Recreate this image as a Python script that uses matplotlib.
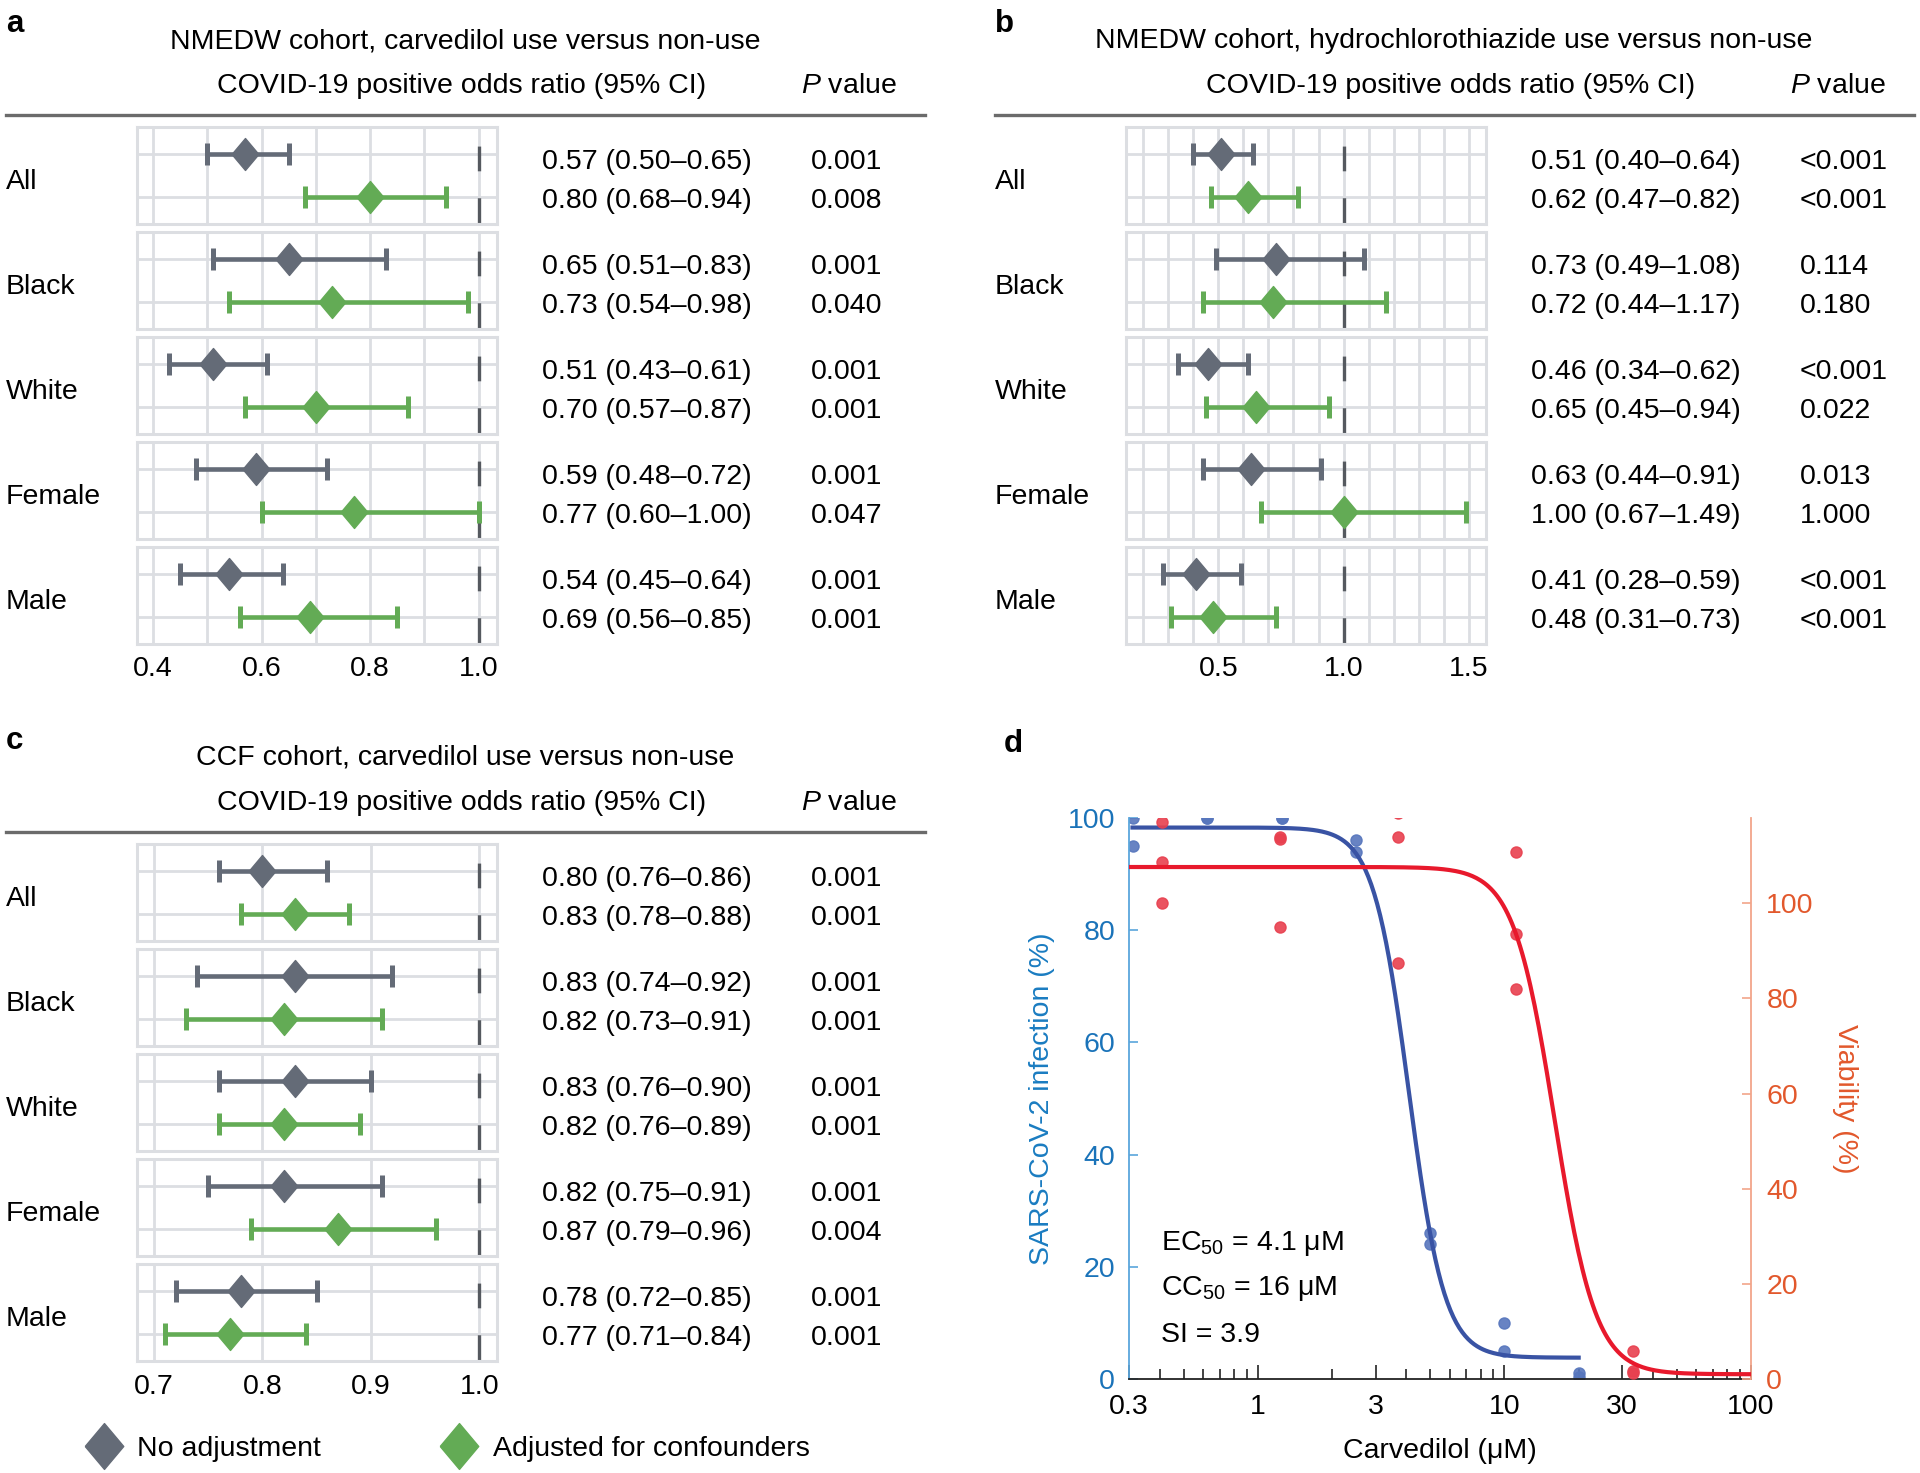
import matplotlib
matplotlib.use('Agg')
import matplotlib.pyplot as plt
from matplotlib import font_manager
from matplotlib.lines import Line2D
import numpy as np

# narrow helvetica-like face if present
names = {f.name for f in font_manager.fontManager.ttflist}
if 'Liberation Sans Narrow' in names:
    FONT, FS = 'Liberation Sans Narrow', 24.5
else:
    FONT, FS = 'Liberation Sans', 20.5
plt.rcParams['font.family'] = [FONT, 'DejaVu Sans']
plt.rcParams['font.size'] = FS
plt.rcParams['mathtext.fontset'] = 'custom'
plt.rcParams['mathtext.rm'] = FONT
plt.rcParams['mathtext.it'] = FONT + ':italic'
plt.rcParams['mathtext.bf'] = FONT + ':bold'
plt.rcParams['mathtext.default'] = 'regular'
plt.rcParams['lines.scale_dashes'] = False

# ---------------- data ----------------
groups = ['All', 'Black', 'White', 'Female', 'Male']

# a: NMEDW carvedilol
a_or = [0.57, 0.65, 0.51, 0.59, 0.54]
a_lo = [0.50, 0.51, 0.43, 0.48, 0.45]
a_hi = [0.65, 0.83, 0.61, 0.72, 0.64]
a_p = ['0.001', '0.001', '0.001', '0.001', '0.001']
a_adj_or = [0.80, 0.73, 0.70, 0.77, 0.69]
a_adj_lo = [0.68, 0.54, 0.57, 0.60, 0.56]
a_adj_hi = [0.94, 0.98, 0.87, 1.00, 0.85]
a_adj_p = ['0.008', '0.040', '0.001', '0.047', '0.001']

# b: NMEDW hydrochlorothiazide
b_or = [0.51, 0.73, 0.46, 0.63, 0.41]
b_lo = [0.40, 0.49, 0.34, 0.44, 0.28]
b_hi = [0.64, 1.08, 0.62, 0.91, 0.59]
b_p = ['<0.001', '0.114', '<0.001', '0.013', '<0.001']
b_adj_or = [0.62, 0.72, 0.65, 1.00, 0.48]
b_adj_lo = [0.47, 0.44, 0.45, 0.67, 0.31]
b_adj_hi = [0.82, 1.17, 0.94, 1.49, 0.73]
b_adj_p = ['<0.001', '0.180', '0.022', '1.000', '<0.001']

# c: CCF carvedilol
c_or = [0.80, 0.83, 0.83, 0.82, 0.78]
c_lo = [0.76, 0.74, 0.76, 0.75, 0.72]
c_hi = [0.86, 0.92, 0.90, 0.91, 0.85]
c_p = ['0.001', '0.001', '0.001', '0.001', '0.001']
c_adj_or = [0.83, 0.82, 0.82, 0.87, 0.77]
c_adj_lo = [0.78, 0.73, 0.76, 0.79, 0.71]
c_adj_hi = [0.88, 0.91, 0.89, 0.96, 0.84]
c_adj_p = ['0.001', '0.001', '0.001', '0.004', '0.001']

# d: dose response
inf_conc = [0.31, 0.31, 0.62, 0.62, 1.25, 1.25, 2.5, 2.5, 5.0, 5.0, 10.0, 10.0, 20.0, 20.0]
inf_val = [100, 95, 100, 100, 100, 100, 96, 94, 26, 24, 10, 5, 1, 0.3]
via_conc = [0.41, 0.41, 0.41, 1.23, 1.23, 1.23, 3.7, 3.7, 3.7, 11.1, 11.1, 11.1, 33.3, 33.3, 33.3]
via_val = [117, 108.6, 100.1, 114, 113.5, 94.9, 119, 113.9, 87.5, 110.7, 93.6, 82, 5.8, 1.7, 1.2]
ec50, ec_top, ec_bot, ec_hill = 4.1, 98.3, 3.8, 6.0
cc50, cc_top, cc_bot, cc_hill = 16.0, 107.6, 1.0, 5.2

# ---------------- style ----------------
GRAY = '#646b77'
GREEN = '#63ab55'
GRID = '#dcdee2'
DASH = '#55595f'
RULE = '#6b6b6b'
DIAMOND = [(-0.42, 0), (0, 0.5), (0.42, 0), (0, -0.5), (-0.42, 0)]

W, H = 1920, 1473
fig = plt.figure(figsize=(W / 100, H / 100), dpi=100)


def fx(x):
    return x / W


def fy(y):
    return 1 - y / H


def forest(dx, dy, letter, title, xlim, grid, ticklabels, unadj, adj):
    fig.text(fx(6 + dx), fy(24 + dy), letter, weight='bold', ha='left', va='center', fontsize=FS + 2)
    fig.text(fx(465 + dx), fy(41 + dy), title, ha='center', va='center')
    fig.text(fx(462 + dx), fy(86 + dy), 'COVID-19 positive odds ratio (95% CI)', ha='center', va='center')
    fig.text(fx(849 + dx), fy(86 + dy), r'$\mathit{P}$ value', ha='center', va='center')
    fig.add_artist(Line2D([fx(6 + dx), fx(925 + dx)], [fy(115 + dy)] * 2, transform=fig.transFigure,
                          color=RULE, lw=2.4))
    for i, g in enumerate(groups):
        top = 127 + dy + i * 105
        ax = fig.add_axes([fx(137 + dx), fy(top + 97), 360 / W, 97 / H])
        ax.set_xlim(xlim)
        ax.set_ylim(1.615, -0.615)
        ax.set_xticks(grid)
        ax.set_xticklabels(ticklabels if i == 4 else [''] * len(grid))
        ax.set_yticks([0, 1])
        ax.grid(True, color=GRID, lw=2.0)
        ax.set_axisbelow(True)
        ax.tick_params(length=0, labelleft=False, pad=9)
        for s in ax.spines.values():
            s.set_color(GRID)
            s.set_linewidth(2.2)
        ax.axvline(1.0, color=DASH, lw=2.4, linestyle=(36.1, (17.8, 19.4)), zorder=2)
        for k, (vals, col) in enumerate([(unadj, GRAY), (adj, GREEN)]):
            o, lo, hi, p = vals[0][i], vals[1][i], vals[2][i], vals[3][i]
            ax.errorbar([o], [k], xerr=[[o - lo], [hi - o]], fmt='none', ecolor=col,
                        elinewidth=3.3, capsize=8.0, capthick=3.6, zorder=3)
            ax.plot([o], [k], marker=DIAMOND, ms=23, color=col, mec=col, ls='none', zorder=4)
            ry = top + 35 + k * 39
            fig.text(fx(542 + dx), fy(ry), f'{o:.2f} ({lo:.2f}\u2013{hi:.2f})', ha='left', va='center')
            fig.text(fx(811 + dx), fy(ry), p, ha='left', va='center')
        fig.text(fx(6 + dx), fy(top + 55), g, ha='left', va='center')


forest(0, 0, 'a', 'NMEDW cohort, carvedilol use versus non-use', (0.3705, 1.034),
       [0.4, 0.5, 0.6, 0.7, 0.8, 0.9, 1.0], ['0.4', '', '0.6', '', '0.8', '', '1.0'],
       (a_or, a_lo, a_hi, a_p), (a_adj_or, a_adj_lo, a_adj_hi, a_adj_p))
forest(989, 0, 'b', 'NMEDW cohort, hydrochlorothiazide use versus non-use', (0.132, 1.568),
       [0.2, 0.3, 0.4, 0.5, 0.6, 0.7, 0.8, 0.9, 1.0, 1.1, 1.2, 1.3, 1.4, 1.5],
       ['', '', '', '0.5', '', '', '', '', '1.0', '', '', '', '', '1.5'],
       (b_or, b_lo, b_hi, b_p), (b_adj_or, b_adj_lo, b_adj_hi, b_adj_p))
forest(0, 717, 'c', 'CCF cohort, carvedilol use versus non-use', (0.6845, 1.0164),
       [0.7, 0.8, 0.9, 1.0], ['0.7', '0.8', '0.9', '1.0'],
       (c_or, c_lo, c_hi, c_p), (c_adj_or, c_adj_lo, c_adj_hi, c_adj_p))

# legend
handles = [Line2D([], [], marker=DIAMOND, ms=33, color=GRAY, ls='none'),
           Line2D([], [], marker=DIAMOND, ms=33, color=GREEN, ls='none')]
fig.legend(handles, ['No adjustment', 'Adjusted for confounders'], loc='center left',
           bbox_to_anchor=(fx(87), fy(1449)), ncol=2, frameon=False, handlelength=1.2,
           handletextpad=0.57, columnspacing=4.25, borderaxespad=0, borderpad=0)

# ---------------- panel d ----------------
BLUE_LINE = '#3953a4'
BLUE_PT = '#5776bd'
RED_LINE = '#e8192c'
RED_PT = '#e8404f'
BLUE_AX = '#1a73b9'
RED_AX = '#e2582c'

fig.text(fx(1004), fy(744), 'd', weight='bold', ha='left', va='center', fontsize=FS + 2)
axd = fig.add_axes([fx(1129), fy(1379), 622 / W, 561 / H])
axd.set_xscale('log')
axd.set_xlim(0.3, 100)
axd.set_ylim(0, 100)
axr = axd.twinx()
axr.set_ylim(0, 117.9)

xb = np.logspace(np.log10(0.31), np.log10(20), 300)
axd.plot(xb, ec_bot + (ec_top - ec_bot) / (1 + (xb / ec50) ** ec_hill), color=BLUE_LINE, lw=3.0, zorder=3)
axd.plot(inf_conc, inf_val, 'o', ms=8, color=BLUE_PT, alpha=0.9, zorder=2)
xr = np.logspace(np.log10(0.3), np.log10(100), 300)
axr.plot(xr, cc_bot + (cc_top - cc_bot) / (1 + (xr / cc50) ** cc_hill), color=RED_LINE, lw=3.0, zorder=3)
axr.plot(via_conc, via_val, 'o', ms=8, color=RED_PT, alpha=0.9, zorder=2)

for s in ['top', 'right']:
    axd.spines[s].set_visible(False)
for s in ['top', 'left', 'bottom']:
    axr.spines[s].set_visible(False)
axd.spines['left'].set_color('#5aa6dc')
axd.spines['left'].set_linewidth(1.3)
axd.spines['bottom'].set_color('#222222')
axd.spines['bottom'].set_linewidth(1.3)
axr.spines['right'].set_color('#f2a58a')
axr.spines['right'].set_linewidth(1.3)

axd.set_yticks([0, 20, 40, 60, 80, 100])
axd.tick_params(axis='y', direction='in', length=6.5, width=1.2, color='#5aa6dc', labelcolor=BLUE_AX, pad=10)
axr.set_yticks([0, 20, 40, 60, 80, 100])
axr.tick_params(axis='y', direction='in', length=6.5, width=1.2, color='#f2a58a', labelcolor=RED_AX, pad=11)

xt = [0.3, 1, 3, 10, 30, 100]
axd.set_xticks(xt)
axd.set_xticklabels(['0.3', '1', '3', '10', '30', '100'])
minors = [m * d for d in (0.1, 1, 10) for m in range(2, 10) if 0.3 < m * d < 100 and m != 3]
axd.set_xticks(minors, minor=True)
axd.tick_params(axis='x', which='major', direction='in', length=10, width=1.2, color='#222222', pad=11)
axd.tick_params(axis='x', which='minor', direction='in', length=7, width=1.2, color='#222222')

axd.set_xlabel('Carvedilol (\u03bcM)', labelpad=13)
axd.set_ylabel('SARS-CoV-2 infection (%)', color='#1a7cc1', labelpad=9)
axr.set_ylabel('Viability (%)', color=RED_AX, rotation=270, va='bottom', labelpad=13)

axd.text(0.051, 0.242, 'EC$_{50}$ = 4.1 \u03bcM', transform=axd.transAxes, ha='left', va='center')
axd.text(0.051, 0.162, 'CC$_{50}$ = 16 \u03bcM', transform=axd.transAxes, ha='left', va='center')
axd.text(0.051, 0.079, 'SI = 3.9', transform=axd.transAxes, ha='left', va='center')

fig.savefig('out.png', dpi=100)
